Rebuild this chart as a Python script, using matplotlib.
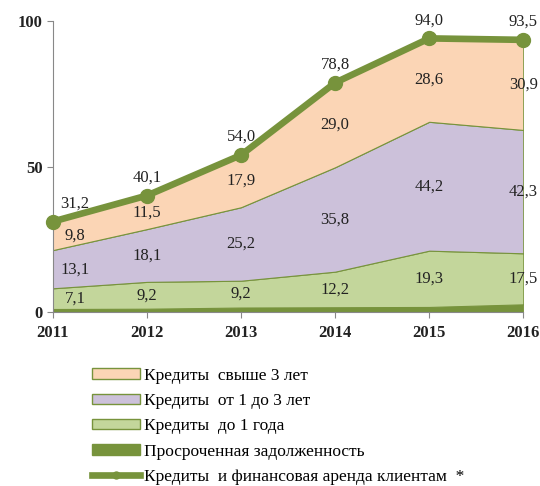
import matplotlib.pyplot as plt
from matplotlib.patches import Patch
from matplotlib.lines import Line2D

plt.rcParams['font.family'] = ['Liberation Serif', 'DejaVu Serif']

years = [2011, 2012, 2013, 2014, 2015, 2016]
overdue = [1.2, 1.3, 1.7, 1.8, 1.9, 2.8]
upto1 = [7.1, 9.2, 9.2, 12.2, 19.3, 17.5]
from1to3 = [13.1, 18.1, 25.2, 35.8, 44.2, 42.3]
over3 = [9.8, 11.5, 17.9, 29.0, 28.6, 30.9]
total = [31.2, 40.1, 54.0, 78.8, 94.0, 93.5]

labels = ['Кредиты  свыше 3 лет', 'Кредиты  от 1 до 3 лет', 'Кредиты  до 1 года',
          'Просроченная задолженность', 'Кредиты  и финансовая аренда клиентам  *']

c_over3 = '#fbd5b5'
c_mid = '#ccc1da'
c_short = '#c3d69b'
c_dark = '#77933c'
edge = '#77933c'

fig = plt.figure(figsize=(5.4, 4.86), dpi=100)
ax = fig.add_axes([0.098, 0.357, 0.871, 0.6])

ax.stackplot(years, overdue, upto1, from1to3, over3,
             colors=[c_dark, c_short, c_mid, c_over3],
             edgecolor=edge, linewidth=0.8)
ax.plot(years, total, color=c_dark, lw=4.8, marker='o', markersize=10,
        solid_capstyle='round', zorder=5, clip_on=False)

def fmt(v):
    return f'{v:.1f}'.replace('.', ',')

# value labels, centred in each band
for i, y in enumerate(years):
    dx = 16 if i == 0 else 0
    base = overdue[i]
    for series in (upto1, from1to3, over3):
        mid = base + series[i] / 2
        ax.annotate(fmt(series[i]), (y, mid), xytext=(dx, 0), textcoords='offset points',
                    ha='center', va='center', fontsize=12, color='#222222')
        base += series[i]
    ax.annotate(fmt(total[i]), (y, total[i]), xytext=(dx, 13), textcoords='offset points',
                ha='center', va='center', fontsize=12, color='#222222',
                annotation_clip=False)

ax.set_xlim(2011, 2016)
ax.set_ylim(0, 100)
ax.set_xticks(years)
ax.set_yticks([0, 50, 100])
ax.tick_params(labelsize=12, colors='#222222', length=4, color='#888888')
ax.tick_params(axis='x', pad=5)
for s in ('top', 'right'):
    ax.spines[s].set_visible(False)
for s in ('left', 'bottom'):
    ax.spines[s].set_color('#888888')
for lbl in ax.get_xticklabels() + ax.get_yticklabels():
    lbl.set_fontweight('bold')

handles = [Patch(facecolor=c_over3, edgecolor=edge),
           Patch(facecolor=c_mid, edgecolor=edge),
           Patch(facecolor=c_short, edgecolor=edge),
           Patch(facecolor=c_dark, edgecolor=edge),
           Line2D([], [], color=c_dark, lw=4.8, marker='o', markersize=5)]
fig.legend(handles, labels, loc='upper left', bbox_to_anchor=(0.158, 0.258),
           frameon=False, fontsize=12.5, handlelength=2.75, handleheight=0.55,
           handletextpad=0.25, labelspacing=0.54, borderaxespad=0)

fig.savefig('out.png', dpi=100)
